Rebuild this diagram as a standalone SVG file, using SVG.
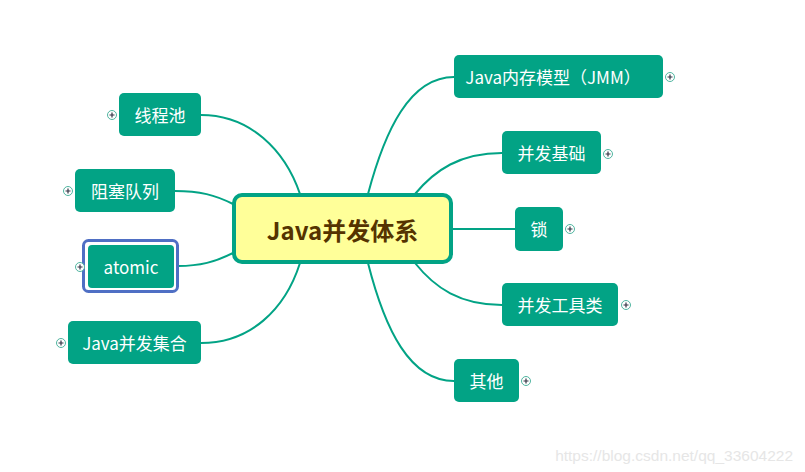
<svg xmlns="http://www.w3.org/2000/svg" width="805" height="472" viewBox="0 0 805 472">
<style>
.n{fill:#02a385;}
.t{fill:#ffffff;font-family:"Noto Sans CJK SC","Liberation Sans",sans-serif;font-size:17px;text-anchor:middle;dominant-baseline:central;}
.c{fill:none;stroke:#02a385;stroke-width:2;}
.p circle{fill:#ffffff;stroke:#4fb5a0;stroke-width:1;}
.p path{stroke:#333344;stroke-width:1.2;fill:none;}
</style>
<defs>
<g id="plus" class="p"><circle cx="0" cy="0" r="4.5"/><path d="M-2.5,0H2.5M0,-2.5V2.5"/></g>
</defs>
<rect width="805" height="472" fill="#ffffff"/>
<g id="connectors">
<path class="c" d="M368,194 C385,130 410,77 454,77"/>
<path class="c" d="M415,194 C435,170 460,153 502,153"/>
<path class="c" d="M452,229 H515"/>
<path class="c" d="M415,263 C435,288 460,305 502,305"/>
<path class="c" d="M368,263 C385,330 410,381 454,381"/>
<path class="c" d="M300,194 C285,150 250,115 201,115"/>
<path class="c" d="M233,204 C215,195 200,191 175,191"/>
<path class="c" d="M233,253 C215,262 200,266 178,266"/>
<path class="c" d="M300,263 C285,310 250,343 201,343"/>
</g>
<g id="center">
<rect x="234" y="195" width="217" height="67" rx="8" fill="#ffff99" stroke="#02a385" stroke-width="4"/>
<text x="342.5" y="229" font-family="Noto Sans CJK SC,Liberation Sans,sans-serif" font-size="24" font-weight="bold" fill="#553300" text-anchor="middle" dominant-baseline="central">Java并发体系</text>
</g>
<g id="jmm">
<rect class="n" x="454" y="55" width="209" height="43" rx="5"/>
<text class="t" x="553" y="76.5">Java内存模型（JMM）</text>
<use href="#plus" x="670" y="77"/>
</g>
<g id="basic">
<rect class="n" x="502" y="131" width="99" height="43" rx="5"/>
<text class="t" x="551.5" y="152.5">并发基础</text>
<use href="#plus" x="608" y="154"/>
</g>
<g id="lock">
<rect class="n" x="515" y="207" width="48" height="44" rx="5"/>
<text class="t" x="539" y="228.5">锁</text>
<use href="#plus" x="570" y="229"/>
</g>
<g id="tools">
<rect class="n" x="502" y="283" width="116" height="43" rx="5"/>
<text class="t" x="560" y="304.5">并发工具类</text>
<use href="#plus" x="626" y="305"/>
</g>
<g id="other">
<rect class="n" x="454" y="359" width="65" height="43" rx="5"/>
<text class="t" x="486.5" y="380.5">其他</text>
<use href="#plus" x="526" y="381"/>
</g>
<g id="pool">
<rect class="n" x="119" y="93" width="82" height="43" rx="5"/>
<text class="t" x="160" y="114.5">线程池</text>
<use href="#plus" x="112" y="115"/>
</g>
<g id="queue">
<rect class="n" x="75" y="169" width="100" height="43" rx="5"/>
<text class="t" x="125" y="190.5">阻塞队列</text>
<use href="#plus" x="68" y="191"/>
</g>
<g id="atomic">
<rect x="83.5" y="240.5" width="94" height="51" rx="5" fill="#ffffff" stroke="#4f6fc4" stroke-width="3"/>
<rect class="n" x="88" y="245" width="86" height="43" rx="4"/>
<text class="t" x="131" y="266.5">atomic</text>
<use href="#plus" x="80" y="267"/>
</g>
<g id="collections">
<rect class="n" x="68" y="321" width="133" height="43" rx="5"/>
<text class="t" x="134.5" y="342.5">Java并发集合</text>
<use href="#plus" x="61" y="343"/>
</g>
<text x="793" y="455" font-family="Liberation Sans,sans-serif" font-size="15.5" fill="#e6e6e6" text-anchor="end" dominant-baseline="central">https://blog.csdn.net/qq_33604222</text>
</svg>
